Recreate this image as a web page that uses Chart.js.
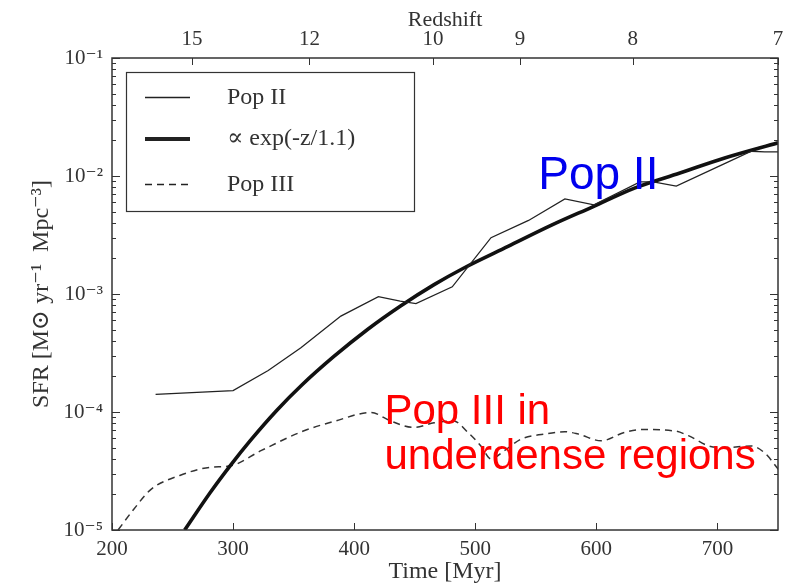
<!DOCTYPE html>
<html>
<head>
<meta charset="utf-8">
<script src="https://cdn.jsdelivr.net/npm/chart.js@4"></script>
<style>
html, body { margin: 0; padding: 0; background: #fff; }
</style>
</head>
<body>
<canvas id="chart" width="792" height="584"></canvas>
<script>
// Pop II (thin line)
const popIITime = [236, 300, 329, 356, 389, 420, 438, 451, 481, 513, 544, 574, 598, 636, 647, 666, 705, 728, 739, 750];
const popIISfr = [1.41e-4, 1.52e-4, 2.25e-4, 3.5e-4, 6.5e-4, 9.5e-4, 8.7e-4, 8.3e-4, 1.15e-3, 3.0e-3, 4.2e-3, 6.4e-3, 5.7e-3, 8.9e-3, 8.9e-3, 8.2e-3, 1.26e-2, 1.62e-2, 1.6e-2, 1.6e-2];

// bold fit curve, ∝ exp(-z/1.1)
const fitTime = [260, 281, 298, 314, 336, 357, 383, 411, 438, 466, 491, 527, 563, 597, 632, 669, 706, 750];
const fitSfr = [1.0e-5, 2.07e-5, 3.55e-5, 5.69e-5, 1.03e-4, 1.7e-4, 2.94e-4, 5.0e-4, 7.87e-4, 1.2e-3, 1.67e-3, 2.53e-3, 3.83e-3, 5.48e-3, 7.94e-3, 1.06e-2, 1.42e-2, 1.91e-2];

// Pop III (dashed)
const popIIITime = [205, 218, 232, 256, 281, 298, 323, 358, 383, 414, 430, 449, 466, 482, 494, 505, 513, 524, 538, 557, 574, 585, 604, 623, 637, 665, 676, 693, 706, 728, 739, 751];
const popIIISfr = [1.0e-5, 1.5e-5, 2.2e-5, 2.9e-5, 3.4e-5, 3.5e-5, 4.7e-5, 6.9e-5, 8.3e-5, 9.9e-5, 8.4e-5, 7.4e-5, 8.1e-5, 8.4e-5, 6.7e-5, 5.1e-5, 4.0e-5, 4.7e-5, 5.9e-5, 6.5e-5, 6.8e-5, 6.5e-5, 5.7e-5, 6.7e-5, 7.1e-5, 6.9e-5, 6.3e-5, 5.15e-5, 5.0e-5, 5.15e-5, 4.5e-5, 3.2e-5];

// axes
const timeTicks = [200, 300, 400, 500, 600, 700];
const redshiftLabels = ["15", "12", "10", "9", "8", "7"];
const redshiftTime = [266, 363, 465, 537, 630, 750];
const yMajor = [1e-5, 1e-4, 1e-3, 1e-2, 1e-1];
const yLabels = ["10⁻⁵", "10⁻⁴", "10⁻³", "10⁻²", "10⁻¹"];

const serif = "'Liberation Serif', 'DejaVu Serif', serif";

function pts(xs, ys) {
    return xs.map((x, i) => ({ x: x, y: ys[i] }));
}

// frame + inward ticks, legend box, coloured notes
const decor = {
    id: "decor",
    afterDraw(chart) {
        const { ctx, chartArea: a, scales } = chart;
        ctx.save();
        ctx.strokeStyle = "#333";
        ctx.lineWidth = 1.5;
        ctx.strokeRect(a.left, a.top, a.right - a.left, a.bottom - a.top);

        ctx.lineWidth = 1;
        ctx.beginPath();
        scales.y.ticks.forEach(t => {
            const py = Math.round(scales.y.getPixelForValue(t.value)) + 0.5;
            const len = t.major ? 8 : 4;
            ctx.moveTo(a.left, py); ctx.lineTo(a.left + len, py);
            ctx.moveTo(a.right, py); ctx.lineTo(a.right - len, py);
        });
        scales.x.ticks.forEach(t => {
            const px = Math.round(scales.x.getPixelForValue(t.value)) + 0.5;
            ctx.moveTo(px, a.bottom); ctx.lineTo(px, a.bottom - 7);
        });
        scales.x2.ticks.forEach(t => {
            const px = Math.round(scales.x2.getPixelForValue(t.value)) + 0.5;
            ctx.moveTo(px, a.top); ctx.lineTo(px, a.top + 7);
        });
        ctx.stroke();

        // legend
        ctx.fillStyle = "#fff";
        ctx.fillRect(126, 72, 288, 139);
        ctx.lineWidth = 1.2;
        ctx.strokeRect(126.5, 72.5, 288, 139);
        const rows = [
            { y: 97.5, w: 1.4, dash: [], text: "Pop II" },
            { y: 139, w: 4, dash: [], text: "∝ exp(-z/1.1)" },
            { y: 184.5, w: 1.4, dash: [7, 5], text: "Pop III" }
        ];
        ctx.font = "24px " + serif;
        ctx.textBaseline = "middle";
        rows.forEach(r => {
            ctx.beginPath();
            ctx.strokeStyle = "#222";
            ctx.lineWidth = r.w;
            ctx.setLineDash(r.dash);
            ctx.moveTo(145, r.y); ctx.lineTo(190, r.y);
            ctx.stroke();
            ctx.setLineDash([]);
            ctx.fillStyle = "#333";
            ctx.fillText(r.text, 227, Math.round(r.y));
        });

        // notes
        ctx.textBaseline = "alphabetic";
        ctx.font = "46px 'Liberation Sans', Arial, sans-serif";
        ctx.fillStyle = "#0000ee";
        ctx.fillText("Pop II", scales.x.getPixelForValue(552), scales.y.getPixelForValue(7.8e-3));
        ctx.font = "42px 'Liberation Sans', Arial, sans-serif";
        ctx.fillStyle = "#ff0000";
        const nx = scales.x.getPixelForValue(425);
        const ny = scales.y.getPixelForValue(7.9e-5);
        ctx.fillText("Pop III in", nx, ny);
        ctx.fillText("underdense regions", nx, ny + 45);
        ctx.restore();
    }
};

new Chart(document.getElementById("chart"), {
    type: "line",
    data: {
        datasets: [
            {
                label: "Pop II",
                data: pts(popIITime, popIISfr),
                borderColor: "#222",
                borderWidth: 1.3,
                pointRadius: 0,
                tension: 0
            },
            {
                label: "∝ exp(-z/1.1)",
                data: pts(fitTime, fitSfr),
                borderColor: "#111",
                borderWidth: 3.6,
                pointRadius: 0,
                cubicInterpolationMode: "monotone"
            },
            {
                label: "Pop III",
                data: pts(popIIITime, popIIISfr),
                borderColor: "#333",
                borderWidth: 1.5,
                borderDash: [7, 5],
                pointRadius: 0,
                cubicInterpolationMode: "monotone"
            }
        ]
    },
    options: {
        responsive: false,
        animation: false,
        layout: { padding: { left: 0, right: 14, top: 0, bottom: 0 } },
        plugins: { legend: { display: false }, tooltip: { enabled: false } },
        scales: {
            x: {
                type: "linear",
                position: "bottom",
                min: 200,
                max: 750,
                grid: { display: false, drawTicks: false },
                border: { display: false },
                afterBuildTicks: s => { s.ticks = timeTicks.map(v => ({ value: v })); },
                afterFit: s => { s.height = 54; },
                ticks: {
                    padding: 7,
                    color: "#333",
                    font: { family: serif, size: 21 },
                    callback: v => String(v)
                },
                title: {
                    display: true,
                    text: "Time [Myr]",
                    color: "#333",
                    font: { family: serif, size: 24, lineHeight: 1 },
                    padding: 0
                }
            },
            x2: {
                type: "linear",
                position: "top",
                min: 200,
                max: 750,
                grid: { display: false, drawTicks: false },
                border: { display: false },
                afterBuildTicks: s => { s.ticks = redshiftTime.map(v => ({ value: v })); },
                afterFit: s => { s.height = 58; },
                ticks: {
                    padding: 6,
                    color: "#333",
                    autoSkip: false,
                    maxRotation: 0,
                    font: { family: serif, size: 21 },
                    callback: (v, i) => redshiftLabels[i]
                },
                title: {
                    display: true,
                    text: "Redshift",
                    color: "#333",
                    font: { family: serif, size: 22, lineHeight: 1 },
                    padding: { top: 9, bottom: 0 }
                }
            },
            y: {
                type: "logarithmic",
                min: 1e-5,
                max: 1e-1,
                grid: { display: false, drawTicks: false },
                border: { display: false },
                afterBuildTicks: s => {
                    const t = [];
                    yMajor.forEach((m, k) => {
                        t.push({ value: m, major: true });
                        if (k < yMajor.length - 1) {
                            for (let j = 2; j <= 9; j++) t.push({ value: m * j, major: false });
                        }
                    });
                    s.ticks = t;
                },
                afterFit: s => { s.width = 112; },
                ticks: {
                    padding: 9,
                    color: "#333",
                    autoSkip: false,
                    font: { family: serif, size: 21 },
                    callback: v => {
                        const k = yMajor.findIndex(m => Math.abs(m - v) / m < 1e-6);
                        return k >= 0 ? yLabels[k] : "";
                    }
                },
                title: {
                    display: true,
                    text: "SFR [M⊙ yr⁻¹  Mpc⁻³]",
                    color: "#333",
                    font: { family: serif, size: 24, lineHeight: 1 },
                    padding: { top: 30, bottom: 0 }
                }
            }
        }
    },
    plugins: [decor]
});
</script>
</body>
</html>
